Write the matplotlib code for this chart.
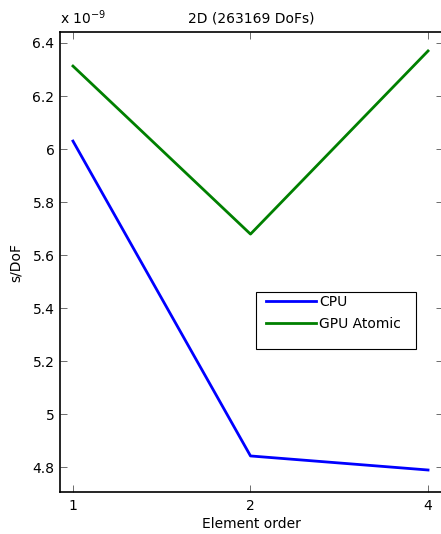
import matplotlib.pyplot as plt
import numpy as np
from matplotlib.ticker import FuncFormatter
from matplotlib.patches import Rectangle

plt.rcParams['font.family'] = ['DejaVu Sans']
plt.rcParams['font.size'] = 10

orders = ['1', '2', '4']
cpu = [6.03, 4.842, 4.789]          # x 1e-9 s/DoF
gpu_atomic = [6.313, 5.679, 6.37]

x = np.arange(1, len(orders) + 1)

W, H = 441, 534
fig = plt.figure(figsize=(W / 100, H / 100), dpi=100)
ax = fig.add_axes([60 / W, 42 / H, 383 / W, 460 / H])

ax.plot(x, cpu, color=(0, 0, 1), lw=2, label='CPU')
ax.plot(x, gpu_atomic, color=(0, 0.5, 0), lw=2, label='GPU Atomic')

ax.set_xlim(0.927, 3 + 15 / 178)
ax.set_ylim(4.706, 6.4415)
ax.set_xticks(x)
ax.set_xticklabels(orders)
ax.set_yticks(np.arange(4.8, 6.41, 0.2))
ax.yaxis.set_major_formatter(FuncFormatter(lambda v, p: '%g' % round(v, 2)))
ax.tick_params(direction='in', length=6, width=0.6, top=True, right=True,
               labelsize=10, color='#555555')
ax.tick_params(axis='y', pad=4, length=5)
ax.tick_params(axis='x', pad=5, length=5)
ax.tick_params(axis='y', which='major', right=True)
for s in ax.spines.values():
    s.set_linewidth(1.2)
ax.spines['right'].set_visible(False)  # cut off at the image edge

ax.set_xlabel('Element order', fontsize=10, labelpad=3)
ax.set_ylabel('s/DoF', fontsize=10, labelpad=7)
ax.set_title('2D (263169 DoFs)', fontsize=10, pad=7)
ax.text(0, 1.01, r'x 10$^{-9}$', transform=ax.transAxes, fontsize=10,
        ha='left', va='bottom')

# legend box (MATLAB style, extra room at bottom)
ax.add_patch(Rectangle((256 / W, 1 - 349 / H), 160 / W, 57 / H,
                       transform=fig.transFigure, facecolor='white',
                       edgecolor='black', lw=0.8, zorder=3, clip_on=False))
leg = ax.legend(loc='upper left',
                bbox_to_anchor=((266 - 60) / 383, 1 - (295 - 32) / 460),
                frameon=False, handlelength=3.6, borderpad=0,
                labelspacing=0.55, handletextpad=0.25, borderaxespad=0,
                fontsize=10)
leg.set_zorder(4)

fig.savefig('out.png', dpi=100)
